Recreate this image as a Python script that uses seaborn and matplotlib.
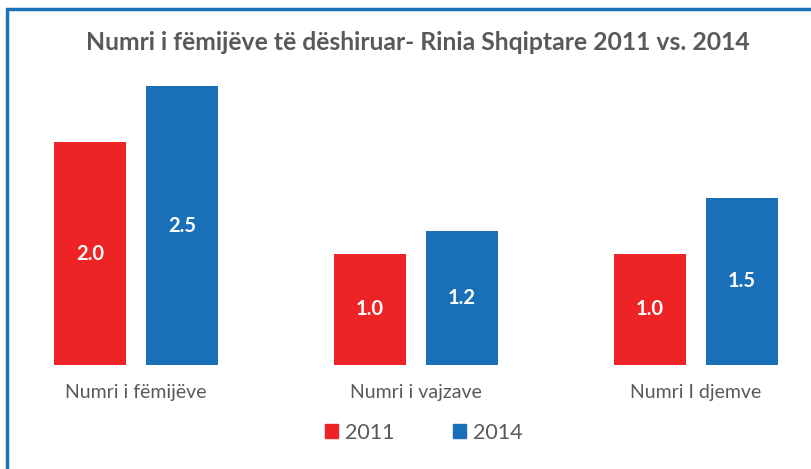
import numpy as np
import pandas as pd
import matplotlib
matplotlib.use("Agg")
import matplotlib.pyplot as plt
import seaborn as sns
from matplotlib.lines import Line2D

# Data
categories = ["Numri i fëmijëve", "Numri i vajzave", "Numri I djemve"]
years = ["2011", "2014"]
values_2011 = [2.0, 1.0, 1.0]
values_2014 = [2.5, 1.2, 1.5]

RED = "#EE2326"
BLUE = "#1A70B8"
TEXT = "#595959"

df = pd.DataFrame({
    "category": categories * 2,
    "year": [years[0]] * 3 + [years[1]] * 3,
    "value": values_2011 + values_2014,
})

sns.set_theme(style="white")
plt.rcParams["font.family"] = ["Lato", "DejaVu Sans"]

fig = plt.figure(figsize=(8.12, 4.69), dpi=100)
ax = fig.add_axes([0.0, 0.2217, 1.0, 0.6657])

sns.barplot(data=df, x="category", y="value", hue="year",
            palette=[RED, BLUE], width=0.657, gap=0.22, linewidth=0,
            saturation=1, ax=ax, legend=False)

for cont in ax.containers:
    ax.bar_label(cont, fmt="%.1f", label_type="center",
                 color="white", fontweight="bold", fontsize=14.5)

ax.set_xlim(-0.486, 2.414)
ax.set_ylim(0, 2.8)
ax.set_xlabel("")
ax.set_ylabel("")
ax.set_yticks([])
ax.tick_params(axis="x", length=0, pad=14, labelsize=14, labelcolor=TEXT)
for s in ax.spines.values():
    s.set_visible(False)
ax.patch.set_alpha(0)

fig.text(0.515, 0.91, "Numri i fëmijëve të dëshiruar- Rinia Shqiptare 2011 vs. 2014",
         ha="center", va="center", fontsize=17.8, fontweight="bold", color=TEXT)

handles = [plt.Rectangle((0, 0), 1, 1, color=RED),
           plt.Rectangle((0, 0), 1, 1, color=BLUE)]
fig.legend(handles, years, loc="center", bbox_to_anchor=(0.522, 0.077),
           ncol=2, frameon=False, fontsize=15.5, labelcolor=TEXT,
           handlelength=0.6, handleheight=0.6, handletextpad=0.35,
           columnspacing=2.7)

# frame border (top and left edges visible)
fig.add_artist(Line2D([0.009, 1.0], [0.980, 0.980], color="#1B72BA", lw=2.5,
                      transform=fig.transFigure))
fig.add_artist(Line2D([0.009, 0.009], [0.0, 0.980], color="#1B72BA", lw=2.5,
                      transform=fig.transFigure))

fig.savefig("out.png", dpi=100)
